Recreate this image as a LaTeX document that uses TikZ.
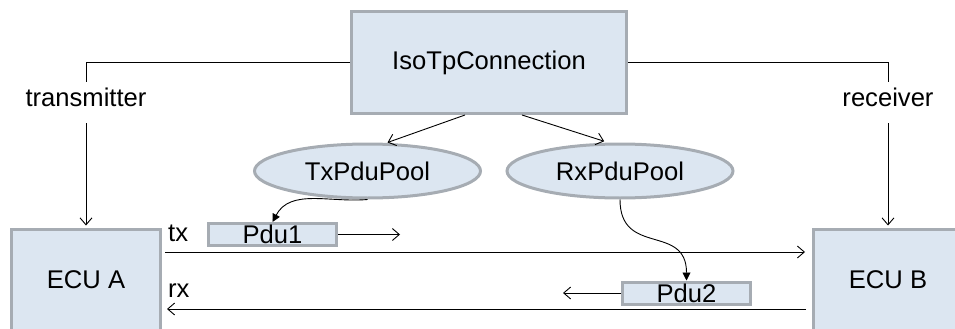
\documentclass[tikz,border=0pt]{standalone}
\usepackage{fontspec}
\setmainfont{Liberation Sans}
\usepackage{xcolor}
\usepackage{tikz}
\definecolor{boxfill}{RGB}{220,230,241}
\definecolor{boxline}{RGB}{166,172,179}
\usetikzlibrary{shapes.geometric,arrows.meta,positioning,calc}
\tikzset{
    box/.style={rectangle, draw=boxline, fill=boxfill, line width=3pt, inner sep=0pt},
    ecu/.style={box, minimum width=149pt, minimum height=102pt},
    pool/.style={ellipse, draw=boxline, fill=boxfill, line width=3pt, inner sep=0pt, minimum width=226pt, minimum height=54pt},
    pdu/.style={box, minimum width=128pt, minimum height=22pt},
    role/.style={inner sep=0pt, minimum height=41pt, text height=0.72em, text depth=0pt},
    chan/.style={inner sep=0pt, anchor=base west},
    link/.style={line width=0.9pt},
    arrow/.style={-{Straight Barb[length=7pt,width=12pt]}, line width=0.9pt},
    handoff/.style={-{Triangle[length=8pt,width=8pt]}, line width=0.9pt},
}

\begin{document}
\begin{tikzpicture}[x=1pt, y=1pt, font=\fontsize{25.6}{30}\selectfont]
    \useasboundingbox (0,0) rectangle (955,-329);
    \clip (0,0) rectangle (955,-329);

    % Connection
    \node[box, minimum width=275pt, minimum height=102pt] (iso) at (489,-62.5) {IsoTpConnection};

    % ECUs
    \node[ecu] (ecuA) at (86,-280) {ECU A};
    \node[ecu] (ecuB) at (888,-280) {ECU B};

    % Roles
    \node[role] (trans) at (86,-102.5) {transmitter};
    \node[role] (recv) at (888,-102.5) {receiver};

    % Pools
    \node[pool] (txpool) at (367.5,-171) {TxPduPool};
    \node[pool] (rxpool) at (620,-171) {RxPduPool};

    % PDUs
    \node[pdu] (pdu1) at (272.5,-234.5) {Pdu1};
    \node[pdu] (pdu2) at (686.5,-293) {Pdu2};
    \coordinate[right=62pt of pdu1] (txgo);
    \coordinate[left=58pt of pdu2] (rxgo);

    % Channels
    \node[chan] (txlbl) at (168,-241) {tx};
    \node[chan] (rxlbl) at (168,-297) {rx};

    % Arrows
    \draw[link] (iso.west) -| (trans.north);
    \draw[arrow, shorten >=2pt] (trans.south) -- (ecuA.north);
    \draw[link] (iso.east) -| (recv.north);
    \draw[arrow, shorten >=2pt] (recv.south) -- (ecuB.north);
    \draw[arrow] ([xshift=-24pt]iso.south) -- ([xshift=20pt]txpool.north);
    \draw[arrow, shorten >=4pt] ([xshift=33pt]iso.south) -- ([xshift=-12pt]rxpool.north);
    \draw[handoff] (txpool.south) to[out=185, in=62] (pdu1.north);
    \draw[handoff] (rxpool.south) to[out=-90, in=90, looseness=1.4] (pdu2.north);
    \draw[arrow] (pdu1.east) -- (txgo);
    \draw[arrow] (pdu2.west) -- (rxgo);
    \draw[arrow, shorten <=3pt, shorten >=7pt] ([yshift=28pt]ecuA.east) -- ([yshift=28pt]ecuB.west);
    \draw[arrow, shorten <=6pt, shorten >=5pt] ([yshift=-29pt]ecuB.west) -- ([yshift=-29pt]ecuA.east);
\end{tikzpicture}
\end{document}
